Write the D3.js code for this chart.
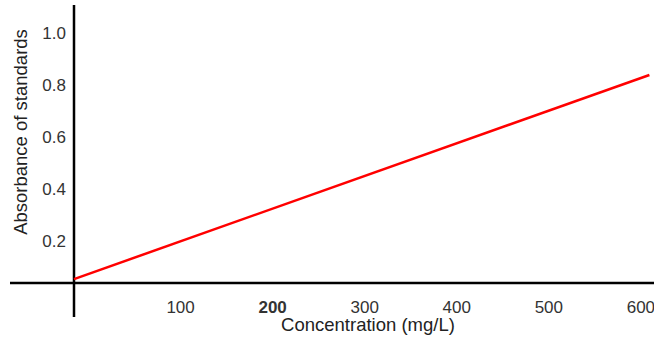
<!DOCTYPE html>
<html>
<head>
<meta charset="utf-8">
<script src="https://cdn.jsdelivr.net/npm/d3@7"></script>
<style>
  body { margin: 0; background: #fff; }
  svg { display: block; font-family: 'Liberation Sans', Arial, sans-serif; }
</style>
</head>
<body>
<svg id="svg" width="654" height="338"></svg>
<script>
// standard curve
const concentration = [0, 625]
const absorbance = [0.015, 0.80]

const xTicks = [100, 200, 300, 400, 500, 600]
const yTicks = [0.2, 0.4, 0.6, 0.8, 1.0]

const xScale = d3.scaleLinear()
  .domain([0, 630])
  .range([74, 654])

const yScale = d3.scaleLinear()
  .domain([0, 1])
  .range([283, 23])

const svg = d3.select('#svg')

// x tick labels (no tick marks, labels sit a bit right of the ticks)
const xAxis = svg.append('g')
  .attr('transform', `translate(0,${yScale(0)})`)
  .call(d3.axisBottom(xScale).tickValues(xTicks).tickSize(0).tickPadding(18).tickFormat(d3.format('d')))
xAxis.select('.domain').remove()
xAxis.selectAll('text')
  .attr('dx', 14)
  .attr('fill', '#333')
  .style('font-size', '17px')
  .style('font-weight', d => d === 200 ? 'bold' : 'normal')

// y tick labels
const yAxis = svg.append('g')
  .attr('transform', `translate(${xScale(0)},0)`)
  .call(d3.axisLeft(yScale).tickValues(yTicks).tickSize(0).tickPadding(8).tickFormat(d3.format('.1f')))
yAxis.select('.domain').remove()
yAxis.selectAll('text')
  .attr('y', 10)
  .attr('fill', '#333')
  .style('font-size', '17px')

// axis lines
svg.append('line')
  .attr('x1', 10).attr('x2', 654)
  .attr('y1', yScale(0)).attr('y2', yScale(0))
  .attr('stroke', '#000')
  .attr('stroke-width', 2.5)

svg.append('line')
  .attr('x1', xScale(0)).attr('x2', xScale(0))
  .attr('y1', 5).attr('y2', 317)
  .attr('stroke', '#000')
  .attr('stroke-width', 2.5)

// the red line
const pts = concentration.map((c, i) => [xScale(c), yScale(absorbance[i])])
svg.append('path')
  .attr('d', d3.line()(pts))
  .attr('stroke', '#ff0000')
  .attr('stroke-width', 2.5)
  .attr('fill', 'none')

// titles
svg.append('text')
  .text('Concentration (mg/L)')
  .attr('x', 368)
  .attr('y', 331)
  .attr('text-anchor', 'middle')
  .attr('fill', '#222')
  .style('font-size', '18.5px')

svg.append('text')
  .text('Absorbance of standards')
  .attr('transform', 'translate(27,132) rotate(-90)')
  .attr('text-anchor', 'middle')
  .attr('fill', '#222')
  .style('font-size', '18.5px')
</script>
</body>
</html>
